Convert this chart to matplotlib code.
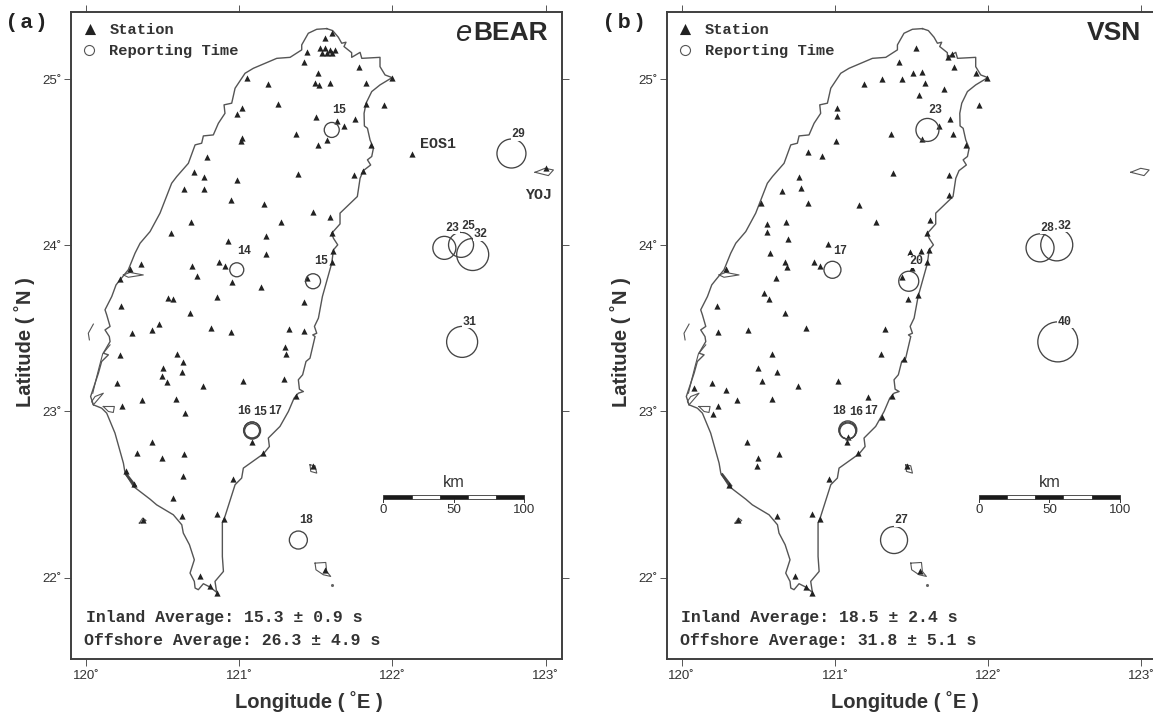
import matplotlib
matplotlib.use('Agg')
import matplotlib.pyplot as plt

plt.rcParams['font.family'] = ['Liberation Sans', 'DejaVu Sans']

# ---------- coastline (lon, lat) ----------
coast_lon = [121.571,121.610,121.647,121.669,121.697,121.684,121.734,121.734,121.789,121.800,121.919,121.919,121.952,121.998,
 121.919,121.865,121.828,121.815,121.817,121.837,121.854,121.876,121.865,121.837,121.858,121.810,121.789,121.771,121.658,121.658,121.604,
 121.615,121.643,121.615,121.604,121.543,121.517,121.491,121.506,121.480,121.495,121.462,121.436,121.414,121.386,121.393,121.419,121.386,121.358,121.321,121.266,
 121.190,121.197,121.158,121.027,121.016,120.973,120.907,120.890,120.890,120.897,120.842,120.853,120.809,120.766,120.733,120.712,120.707,120.679,120.707,120.675,120.635,120.625,120.570,120.461,120.418,120.309,120.255,120.244,
 120.189,120.135,120.102,120.048,120.030,120.059,120.081,120.102,120.146,120.113,120.157,120.152,120.124,120.157,120.135,120.124,120.168,120.196,120.222,120.276,120.320,120.353,120.418,
 120.483,120.559,120.592,120.668,120.712,120.755,120.766,120.831,120.864,120.907,120.901,120.951,120.973,121.038,121.092,121.245,121.332,121.408,121.408,121.451,121.506,121.571]
coast_lat = [25.305,25.293,25.253,25.217,25.223,25.197,25.160,25.132,25.162,25.126,25.132,25.076,25.026,25.010,
 24.966,24.926,24.856,24.795,24.719,24.705,24.635,24.585,24.535,24.515,24.484,24.450,24.404,24.294,24.194,24.129,24.073,
 24.043,24.003,23.973,23.893,23.692,23.562,23.512,23.471,23.461,23.451,23.321,23.301,23.221,23.191,23.134,23.120,23.110,23.080,23.000,22.910,
 22.840,22.789,22.745,22.659,22.599,22.559,22.368,22.328,22.127,22.037,21.977,21.911,21.943,21.963,21.927,21.937,21.977,22.027,22.107,22.198,22.268,22.318,22.378,22.438,22.472,22.549,22.629,22.689,
 22.870,22.990,23.020,23.040,23.090,23.170,23.231,23.301,23.341,23.351,23.421,23.451,23.491,23.512,23.582,23.612,23.692,23.762,23.792,23.853,23.953,24.013,24.083,
 24.194,24.374,24.414,24.494,24.605,24.615,24.659,24.665,24.735,24.795,24.846,24.856,24.946,25.036,25.066,25.126,25.132,25.177,25.207,25.277,25.301,25.305]

# small shapes: (lons, lats)
estuary = ([120.244,120.287,120.374,120.276,120.244], [23.822,23.837,23.822,23.808,23.822])
islet_west = ([120.048,120.015,120.022], [23.526,23.471,23.431])
sand_bar = ([120.157,120.109,120.087,120.065,120.044], [23.401,23.347,23.271,23.191,23.110])
lagoon_a = ([120.048,120.113,120.059,120.037,120.048], [23.040,23.110,23.090,23.060,23.040])
lagoon_b = ([120.113,120.185,120.178,120.146,120.113], [23.030,23.030,22.994,23.000,23.030])
green_island = ([121.462,121.495,121.506,121.467,121.462], [22.679,22.673,22.629,22.639,22.679])
orchid_island = ([121.495,121.565,121.571,121.597,121.549,121.501,121.495], [22.087,22.091,22.037,22.007,22.017,22.047,22.087])
liuqiu = ([120.348,120.370,120.392,120.374,120.348], [22.328,22.358,22.344,22.332,22.328])
yonaguni = ([122.931,122.996,123.051,123.018,122.931], [24.440,24.464,24.454,24.420,24.440])
harbour = ([120.265,120.320], [22.619,22.553])
shapes = [estuary, islet_west, sand_bar, lagoon_a, lagoon_b, green_island, orchid_island, liuqiu, yonaguni]

# ---------- stations ----------
ebear_lon = [121.608,121.560,121.445,121.528,121.560,121.593,121.625,121.538,121.571,121.604,121.425,121.512,121.495,121.523,121.593,121.049,121.190,121.253,121.016,120.986,121.501,121.636,121.682,121.371,121.571,121.512,121.016,121.012,120.792,120.703,120.770,120.986,121.382,120.640,120.772,120.947,121.160,121.482,121.595,121.273,120.685,120.557,121.175,121.606,
 121.780,121.826,121.945,121.830,121.756,121.863,122.130,121.750,121.810,121.998,123.003,
 120.925,121.175,121.615,121.604,120.359,120.287,120.224,120.694,120.870,120.907,120.727,120.953,121.142,120.537,120.570,120.855,121.443,121.425,120.228,120.677,120.474,120.433,120.300,120.814,120.949,121.327,121.423,120.222,120.594,121.297,121.306,120.631,120.500,120.625,120.496,120.529,120.766,121.025,121.293,120.202,121.373,120.366,120.590,120.237,120.646,121.081,120.433,121.158,120.335,120.640,120.498,
 120.261,120.631,120.962,120.313,120.570,120.629,120.855,120.903,120.374,120.744,120.812,120.855,121.560,121.484]
ebear_lat = [25.277,25.247,25.166,25.187,25.187,25.177,25.177,25.160,25.156,25.160,25.104,25.040,24.976,24.964,24.980,25.010,24.970,24.852,24.829,24.791,24.775,24.751,24.719,24.671,24.635,24.603,24.645,24.629,24.535,24.444,24.412,24.394,24.430,24.342,24.342,24.274,24.248,24.202,24.168,24.139,24.141,24.073,24.057,24.077,
 25.076,24.976,24.844,24.854,24.763,24.605,24.549,24.424,24.448,25.010,24.468,
 24.029,23.949,23.969,23.899,23.887,23.857,23.798,23.873,23.899,23.877,23.816,23.782,23.748,23.682,23.680,23.692,23.802,23.662,23.632,23.592,23.526,23.491,23.471,23.504,23.479,23.497,23.487,23.341,23.347,23.387,23.345,23.295,23.261,23.239,23.215,23.179,23.156,23.183,23.193,23.169,23.096,23.070,23.076,23.034,22.990,22.815,22.819,22.749,22.751,22.741,22.721,
 22.639,22.609,22.593,22.565,22.482,22.372,22.384,22.354,22.348,22.009,21.947,21.905,22.043,22.669]

vsn_lon = [121.528,121.421,121.510,121.567,121.438,121.306,121.190,121.591,121.710,121.551,121.012,121.016,121.682,121.569,121.364,121.007,120.823,120.918,120.768,121.380,120.777,120.653,120.520,120.827,121.158,121.621,121.271,120.681,120.555,120.555,121.604,120.696,
 121.741,121.767,121.778,121.921,121.995,121.941,121.754,121.771,121.856,121.747,121.747,121.615,121.491,121.560,121.599,121.506,121.545,121.480,121.436,
 120.953,120.577,120.677,120.690,120.866,120.905,120.287,120.614,120.535,120.568,120.228,120.675,120.239,120.431,120.809,121.325,120.592,121.303,121.451,120.498,120.620,120.527,120.762,121.023,120.200,120.083,120.287,121.216,121.371,120.363,120.588,120.235,120.207,121.306,121.077,121.088,120.429,121.153,120.638,120.496,120.494,121.469,
 120.960,120.311,120.625,120.853,120.901,120.370,120.742,120.809,120.853,121.558]
vsn_lat = [25.187,25.104,25.040,25.044,25.000,25.000,24.970,24.980,24.940,24.904,24.829,24.779,24.719,24.639,24.673,24.629,24.565,24.539,24.412,24.436,24.344,24.330,24.254,24.256,24.246,24.153,24.139,24.141,24.131,24.079,24.075,24.041,
 25.136,25.154,25.074,25.040,25.010,24.844,24.763,24.671,24.603,24.424,24.304,23.973,23.961,23.969,23.899,23.861,23.704,23.680,23.808,
 24.007,23.955,23.901,23.871,23.899,23.877,23.857,23.804,23.712,23.680,23.632,23.592,23.479,23.489,23.504,23.497,23.347,23.345,23.313,23.261,23.239,23.181,23.156,23.183,23.169,23.142,23.132,23.090,23.096,23.070,23.076,23.034,22.984,22.966,22.815,22.846,22.819,22.749,22.741,22.721,22.673,22.669,
 22.593,22.559,22.370,22.382,22.354,22.348,22.009,21.945,21.905,22.041]

# ---------- earthquake sites and reporting times (s) ----------
site_lon = [121.604,120.984,121.482,121.084,121.084,121.084,122.339,122.448,122.524,122.455,122.777,121.386]
site_lat = [24.695,23.853,23.784,22.889,22.882,22.885,23.985,24.003,23.945,23.419,24.553,22.226]
label_lon = [121.652,121.034,121.532,121.031,121.136,121.236,122.389,122.496,122.574,122.502,122.824,121.436]
label_lat = [24.813,23.969,23.903,23.004,22.994,23.004,24.107,24.119,24.067,23.540,24.671,22.344]
ebear_time = [15,14,15,16,15,17,23,25,32,31,29,18]
vsn_time = [23,17,20,18,16,17,28,32,None,40,None,27]

scale_km = [0,20,40,60,80,100]
scale_labels = [0,50,100]
lon_ticks = [120,121,122,123]
lat_ticks = [22,23,24,25]

W, H = 1153, 715
DARK = '#3f3f3f'
MONO = ['Liberation Mono', 'DejaVu Sans Mono']
fig = plt.figure(figsize=(W/100, H/100), dpi=100, facecolor='white')

def fp(x, y):
    return x / W, 1 - y / H

def panel(dx, tag, tag_x, stations, times, inland, offshore, off_dx, show_extra):
    l, r, t, b = 71 + dx, 561.7 + dx, 12, 659.3
    ax = fig.add_axes([l/W, 1-b/H, (r-l)/W, (b-t)/H])
    ax.set_xlim(119.902, 123.105)
    ax.set_ylim(21.508, 25.405)
    for s in ax.spines.values():
        s.set_linewidth(1.4)
        s.set_color(DARK)
    ax.set_xticks(lon_ticks, [f'{v}˚' for v in lon_ticks])
    ax.set_yticks(lat_ticks, [f'{v}˚' for v in lat_ticks])
    ax.tick_params(axis='both', direction='out', length=5, width=0.7, color='#555',
                   top=True, right=True, labelsize=9.6, labelcolor='#333', pad=2.5)
    ax.tick_params(axis='y', pad=1.5)

    ax.plot(coast_lon, coast_lat, color='#555', lw=1.0, zorder=2)
    for sx, sy in shapes:
        ax.plot(sx, sy, color='#555', lw=0.8, zorder=2)
    ax.plot(harbour[0], harbour[1], color='#444', lw=2.0, zorder=2)
    ax.scatter([121.604], [21.955], s=1.5, color='#666', zorder=2)

    ax.scatter(stations[0], stations[1], marker='^', s=20, color='#222', lw=0, zorder=3)

    # reporting-time circles: diameter in pixels equals the time in seconds
    for lo, la, tv in zip(site_lon, site_lat, times):
        if tv is None:
            continue
        ax.scatter([lo], [la], s=(tv*0.72)**2, facecolors='none', edgecolors='#444', lw=0.95, zorder=4)
    for lo, la, tv in zip(label_lon, label_lat, times):
        if tv is None:
            continue
        ax.text(lo, la, str(tv), family=MONO, fontsize=8.4, weight='bold', color='#333',
                ha='center', va='center', zorder=5,
                bbox=dict(facecolor='white', edgecolor='none', pad=0.4))

    # scale bar
    deg_per_km = 0.00918
    lon0, lat_lo, lat_hi = 121.941, 22.471, 22.497
    for i in range(len(scale_km) - 1):
        ax.fill([lon0 + scale_km[i]*deg_per_km, lon0 + scale_km[i+1]*deg_per_km,
                 lon0 + scale_km[i+1]*deg_per_km, lon0 + scale_km[i]*deg_per_km],
                [lat_lo, lat_lo, lat_hi, lat_hi],
                facecolor='#1a1a1a' if i % 2 == 0 else 'white', edgecolor='#333', lw=0.6, zorder=3)
    for km in scale_labels:
        x = lon0 + km*deg_per_km
        ax.plot([x, x], [lat_lo, lat_lo - 0.018], color='#333', lw=0.7, zorder=3)
        ax.text(x, 22.405, str(km), fontsize=9.6, color='#333', ha='center', va='center')
    ax.text(lon0 + 50*deg_per_km, 22.570, 'km', fontsize=11.8, color='#333', ha='center', va='center')

    if show_extra:
        ax.text(122.298, 24.609, 'EOS1', family=MONO, fontsize=10.8, weight='bold', color='#333', ha='center', va='center')
        ax.text(122.955, 24.302, 'YOJ', family=MONO, fontsize=10.8, weight='bold', color='#333', ha='center', va='center')

    # legend
    lax = fig.add_axes([0, 0, 1, 1], facecolor='none')
    lax.set_xlim(0, W); lax.set_ylim(H, 0); lax.axis('off')
    lax.scatter([89.7 + dx], [28.5], marker='^', s=64, color='#222', lw=0)
    lax.scatter([89.3 + dx], [50], s=52, facecolors='white', edgecolors='#555', lw=0.8)
    for txt, y in (('Station', 30), ('Reporting Time', 51.5)):
        x_, y_ = fp(109.3 + dx, y)
        fig.text(x_, y_, txt, family=MONO, fontsize=11.1, weight='bold', color='#333', ha='left', va='center')
    x_, y_ = fp(85.7 + off_dx, 617.7)
    fig.text(x_, y_, inland, family=MONO, fontsize=11.9, weight='bold', color='#333', ha='left', va='center')
    x_, y_ = fp(84.3 + off_dx, 641)
    fig.text(x_, y_, offshore, family=MONO, fontsize=11.9, weight='bold', color='#333', ha='left', va='center')

    x_, y_ = fp(tag_x, 23)
    fig.text(x_, y_, tag, fontsize=15, weight='bold', color='#222', ha='center', va='center')
    x_, y_ = fp(309 + dx, 702)
    fig.text(x_, y_, 'Longitude ( ˚E )', fontsize=14.5, weight='bold', color='#333', ha='center', va='center')
    x_, y_ = fp(25 + dx, 342)
    fig.text(x_, y_, 'Latitude ( ˚N )', fontsize=14.5, weight='bold', color='#333', ha='center', va='center', rotation=90)
    return ax

panel(0, '( a )', 27, (ebear_lon, ebear_lat), ebear_time,
      'Inland Average: 15.3 ± 0.9 s', 'Offshore Average: 26.3 ± 4.9 s', 0, True)
panel(595.7, '( b )', 624, (vsn_lon, vsn_lat), vsn_time,
      'Inland Average: 18.5 ± 2.4 s', 'Offshore Average: 31.8 ± 5.1 s', 595.3, False)

# network names
x_, y_ = fp(547.5, 33)
fig.text(x_, y_, 'BEAR', fontsize=19, weight='bold', color='#2a2a2a', ha='right', va='center')
x_, y_ = fp(471.5, 33)
fig.text(x_, y_, 'e', fontsize=21, style='italic', color='#2a2a2a', ha='right', va='center')
x_, y_ = fp(1141.5, 33)
fig.text(x_, y_, 'VSN', fontsize=19, weight='bold', color='#2a2a2a', ha='right', va='center')

fig.savefig('out.png', dpi=100)
